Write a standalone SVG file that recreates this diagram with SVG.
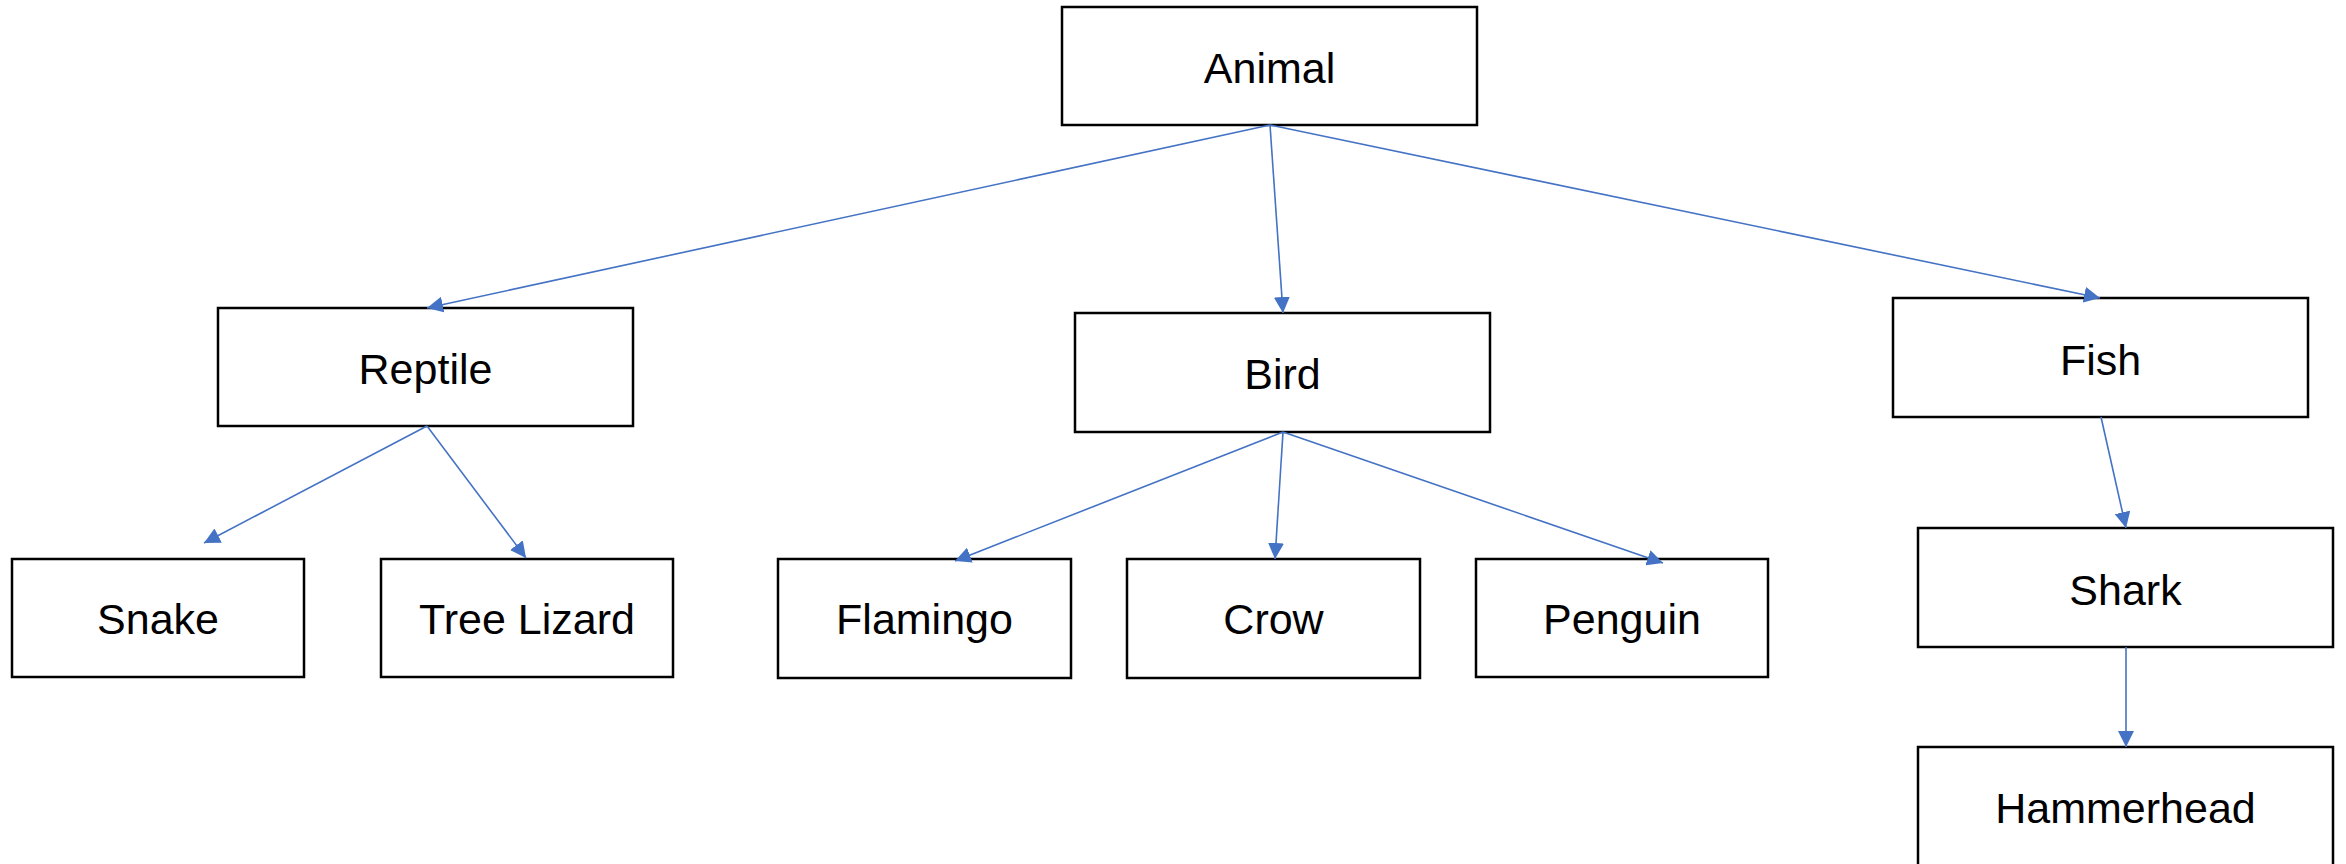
<svg xmlns="http://www.w3.org/2000/svg" width="2346" height="864" viewBox="0 0 2346 864">
  <style>
    .box { fill: #ffffff; stroke: #000000; stroke-width: 2.5; }
    .label { font-family: "Liberation Sans", Arial, sans-serif; font-size: 43px; fill: #000000; text-anchor: middle; }
    .edge { stroke: #4472C4; stroke-width: 1.6; fill: none; marker-end: url(#arrow); }
  </style>
  <defs>
    <marker id="arrow" viewBox="0 0 10 10" refX="10" refY="5" markerWidth="16" markerHeight="16" markerUnits="userSpaceOnUse" orient="auto">
      <path d="M0,0 L10,5 L0,10 z" fill="#4472C4"/>
    </marker>
  </defs>

  <rect width="2346" height="864" fill="#ffffff"/>

  <!-- nodes -->
  <g id="animal">
    <rect class="box" x="1062" y="7" width="415" height="118"/>
    <text class="label" x="1269.5" y="83">Animal</text>
  </g>
  <g id="reptile">
    <rect class="box" x="218" y="308" width="415" height="118"/>
    <text class="label" x="425.5" y="384">Reptile</text>
  </g>
  <g id="bird">
    <rect class="box" x="1075" y="313" width="415" height="119"/>
    <text class="label" x="1282.5" y="389">Bird</text>
  </g>
  <g id="fish">
    <rect class="box" x="1893" y="298" width="415" height="119"/>
    <text class="label" x="2100.5" y="375">Fish</text>
  </g>
  <g id="snake">
    <rect class="box" x="12" y="559" width="292" height="118"/>
    <text class="label" x="158" y="634">Snake</text>
  </g>
  <g id="tree-lizard">
    <rect class="box" x="381" y="559" width="292" height="118"/>
    <text class="label" x="527" y="634">Tree Lizard</text>
  </g>
  <g id="flamingo">
    <rect class="box" x="778" y="559" width="293" height="119"/>
    <text class="label" x="924.5" y="634">Flamingo</text>
  </g>
  <g id="crow">
    <rect class="box" x="1127" y="559" width="293" height="119"/>
    <text class="label" x="1273.5" y="634">Crow</text>
  </g>
  <g id="penguin">
    <rect class="box" x="1476" y="559" width="292" height="118"/>
    <text class="label" x="1622" y="634">Penguin</text>
  </g>
  <g id="shark">
    <rect class="box" x="1918" y="528" width="415" height="119"/>
    <text class="label" x="2125.5" y="605">Shark</text>
  </g>
  <g id="hammerhead">
    <rect class="box" x="1918" y="747" width="415" height="119"/>
    <text class="label" x="2125.5" y="823">Hammerhead</text>
  </g>

  <!-- connectors -->
  <g id="connectors">
    <line class="edge" x1="1270" y1="125" x2="427" y2="308"/>
    <line class="edge" x1="1270" y1="125" x2="1283" y2="313"/>
    <line class="edge" x1="1270" y1="125" x2="2100" y2="298"/>
    <line class="edge" x1="427" y1="426" x2="204" y2="543"/>
    <line class="edge" x1="427" y1="426" x2="526" y2="558"/>
    <line class="edge" x1="1283" y1="432" x2="955" y2="561"/>
    <line class="edge" x1="1283" y1="432" x2="1275" y2="559"/>
    <line class="edge" x1="1283" y1="432" x2="1663" y2="563"/>
    <line class="edge" x1="2101" y1="417" x2="2126" y2="528"/>
    <line class="edge" x1="2126" y1="647" x2="2126" y2="747"/>
  </g>
</svg>
